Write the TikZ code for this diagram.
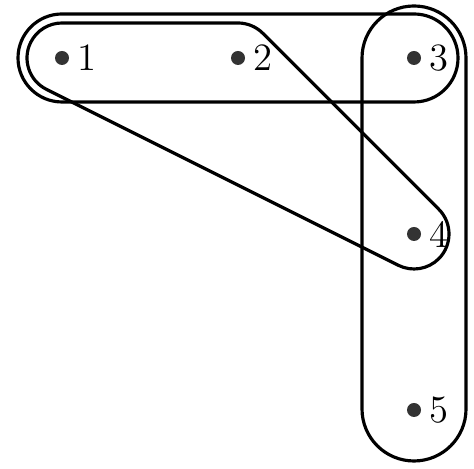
\documentclass[tikz,border=0pt]{standalone}
\usepackage{tikz}
\usetikzlibrary{positioning,calc}
\tikzset{
  vertex/.style={circle, fill=black!80, inner sep=0pt, minimum size=1.4mm},
  hedge/.style={line width=0.9pt, line join=round},
  every label/.style={font=\fontsize{11}{13}\selectfont, inner sep=2pt}
}

\begin{document}
\begin{tikzpicture}[node distance=1.76cm and 1.76cm, on grid]
        \useasboundingbox (-0.62,-4.11) rectangle (4.12,0.58);
        \node[vertex, label=right:1] (v1) {};
        \node[vertex, right=of v1, label=right:2] (v2) {};
        \node[vertex, right=of v2, label=right:3] (v3) {};
        \node[vertex, below=of v3, label=right:4] (v4) {};
        \node[vertex, below=of v4, label=right:5] (v5) {};
        \draw[hedge, rounded corners=0.44cm] ($(v1)+(-0.44,0.44)$) rectangle ($(v3)+(0.44,-0.44)$);
        \draw[hedge, rounded corners=0.52cm] ($(v3)+(-0.52,0.52)$) rectangle ($(v5)+(0.52,-0.51)$);
        \draw[hedge] ($(v1)+(0,0.35)$) -- ($(v2)+(0,0.35)$)
          arc[start angle=90, end angle=45, radius=0.35cm] -- ($(v4)+(45:0.35)$)
          arc[start angle=45, end angle=-116.57, radius=0.35cm] -- ($(v1)+(-116.57:0.35)$)
          arc[start angle=243.43, end angle=90, radius=0.35cm] -- cycle;
      \end{tikzpicture}
\end{document}
